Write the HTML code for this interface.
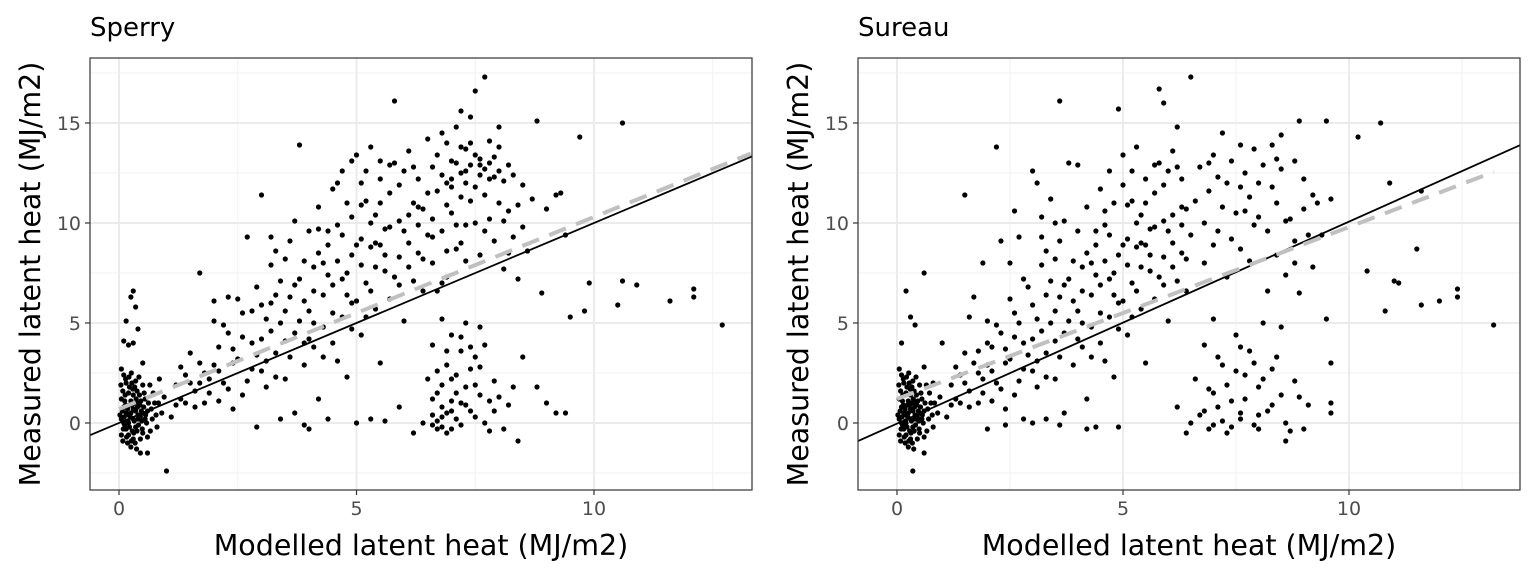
<!DOCTYPE html>
<html><head><meta charset="utf-8"><style>
html,body{margin:0;padding:0;background:#fff;}
svg{display:block;font-family:"DejaVu Sans","Liberation Sans",sans-serif;}
</style></head><body>
<svg id="chart" width="1536" height="576" viewBox="0 0 1536 576" xmlns="http://www.w3.org/2000/svg"></svg>
<script>
const xTicks=[0,5,10];
const yTicks=[0,5,10,15];
const panelTitles=["Sperry","Sureau"];
const sperrySolid=[0.0,1.0];
const sperryDashed=[0.7,0.96];
const sureauSolid=[-0.03,1.01];
const sureauDashed=[1.2,0.86];
const sperryPoints=[
[0.05,0.2],[0.1,0.8],[0.15,-0.3],[0.2,1.5],[0.25,0.5],[0.3,-0.8],[0.35,2.1],[0.1,2.4],[0.05,-0.6],[0.2,0],[0.4,1.0],[0.45,0.3],[0.5,-0.5],[0.55,1.2],[0.6,0.6],[0.12,1.1],[0.18,-1.0],[0.28,0.9],[0.33,1.8],[0.08,1.6],[0.22,-0.2],[0.38,-0.4],[0.42,2.3],[0.48,0.1],[0.52,0.8],[0.02,0.4],[0.15,2.0],[0.3,0.2],[0.25,-1.2],[0.35,0.6],[0.6,-1.5],[0.45,-1.5],[0.7,0.2],[0.75,1.0],[0.8,-0.2],[0.65,1.9],[0.05,2.7],[0.2,3.9],[0.3,6.6],[0.25,6.3],[0.35,5.8],[0.15,5.1],[0.4,4.7],[0.3,4.0],[0.1,4.1],[0.5,3.0],[0.9,0.5],[0.95,1.3],[1.0,-2.4],[0.85,2.2],
[0.1,0.0],[0.15,0.5],[0.2,-0.6],[0.25,1.1],[0.3,1.4],[0.35,-0.2],[0.4,0.4],[0.12,-0.1],[0.18,0.7],[0.28,-0.4],[0.05,1.2],[0.22,1.8],[0.32,0.1],[0.38,1.6],[0.45,-0.8],[0.5,1.9],[0.55,0.2],[0.6,-0.7],[0.08,-0.9],[0.14,2.2],[0.24,0.3],[0.34,-1.0],[0.44,0.9],[0.26,2.5],
[0.07,0.6],[0.13,1.4],[0.19,0.1],[0.23,0.9],[0.29,1.7],[0.36,1.2],[0.41,-0.1],[0.47,0.6],[0.53,1.5],[0.58,0.0],[0.09,-0.3],[0.16,-0.7],[0.27,2.0],[0.31,-0.5],[0.39,0.8],[0.43,1.4],[0.49,-0.3],[0.56,0.4],[0.62,1.0],[0.66,-0.4],[0.04,1.9],[0.11,0.3],[0.21,2.3],[0.37,-1.3],[0.46,1.1],[0.68,0.7],[0.72,1.5],[0.78,0.4],[0.83,1.0],[0.2,0.4],[0.3,0.7],[0.4,0.2],[0.14,0.9],[0.26,-0.9],[0.34,1.0],[0.5,0.5],
[1.1,0.3],[1.2,1.9],[1.3,2.8],[1.4,1.0],[1.5,3.5],[1.6,0.8],[1.7,7.5],[1.8,2.5],[1.9,1.5],[2.0,6.1],[2.1,3.8],[2.2,2.0],[2.3,4.5],[2.4,0.7],[2.5,3.2],[2.6,5.5],[2.7,9.3],[2.8,2.7],[2.9,6.8],[3.0,11.4],[3.0,4.2],[3.1,1.8],[3.2,7.9],[3.2,9.3],[3.3,3.5],[3.4,5.0],[3.5,8.2],[3.5,2.2],[3.6,6.3],[3.7,0.5],[3.7,4.5],[3.8,13.9],[3.8,7.2],[3.9,2.9],[4.0,9.6],[4.0,5.6],[4.1,3.8],[4.1,7.8],[4.2,1.2],[4.2,10.8],[4.3,6.4],[4.3,4.8],[4.4,8.9],[4.4,0.2],[4.5,11.7],[4.5,6.9],[4.6,3.1],[4.6,9.9],[4.7,5.3],[4.7,12.6],[4.8,7.5],[4.8,2.3],[4.9,10.3],[4.9,8.4],[5.0,6.1],[5.0,13.4],[5.1,9.2],[5.1,4.4],[5.2,11.1],[5.2,7.0],[5.3,13.8],[5.3,8.8],[5.4,5.7],[5.4,10.4],[5.5,12.2],[5.5,3.0],[5.6,9.7],[5.6,7.6],[5.7,11.5],[5.7,6.2],[5.8,16.1],[5.8,13.0],[5.9,8.3],[5.9,10.1],[6.0,12.6],[6.0,5.1],[6.1,9.0],[6.1,13.6],[6.2,7.1],[6.2,11.0],[6.3,8.5],[6.3,12.2],[6.4,6.6],[6.4,10.7],[6.5,14.2],[6.5,9.4],[5.0,0.0],[5.3,0.2],[5.6,0.1],[4.0,-0.3],[3.9,-0.1],[3.4,0.2],[2.9,-0.2],
[1.3,1.2],[1.5,2.0],[1.8,1.0],[2.0,2.9],[2.2,4.9],[2.4,3.0],[2.6,1.4],[2.8,4.0],[3.0,5.9],[3.1,3.1],[3.3,6.4],[3.5,4.1],[3.6,9.1],[3.9,6.1],[4.1,5.0],[4.3,8.0],[4.5,4.0],[4.7,7.2],[4.9,6.0],[5.1,7.9],[5.3,6.6],[5.5,8.9],[5.7,9.8],[5.9,6.9],[6.1,10.4],[6.3,9.9],[4.4,9.6],[4.8,11.0],[5.2,12.6],[5.4,9.0],[3.7,10.1],[3.3,8.6],[2.5,6.2],[2.1,1.1],
[1.2,0.9],[1.4,2.4],[1.6,1.6],[1.7,3.0],[1.9,2.2],[2.1,2.6],[2.3,1.7],[2.4,3.7],[2.6,4.3],[2.7,2.1],[2.9,3.4],[3.0,2.6],[3.1,5.2],[3.2,4.6],[3.3,2.3],[3.4,7.1],[3.5,5.6],[3.6,3.3],[3.7,6.9],[3.8,5.1],[3.9,8.1],[4.0,4.2],[4.1,6.6],[4.2,8.5],[4.3,3.3],[4.4,7.4],[4.5,5.5],[4.6,8.1],[4.7,9.4],[4.8,6.4],[4.9,4.7],[5.0,8.9],[5.1,10.9],[5.2,5.3],[5.3,10.0],[5.4,7.8],[5.5,11.0],[5.6,8.4],[5.7,12.9],[5.8,7.3],[5.9,11.9],[6.0,9.6],[6.1,7.8],[6.2,12.8],[6.3,10.8],[6.4,8.2],[6.5,11.5],[4.6,12.0],[4.9,13.1],[5.1,12.0],[5.5,13.1],[4.2,9.7],[3.9,4.0],[3.2,6.0],[2.8,5.6],[2.3,6.3],[2.0,5.1],[1.7,2.0],
[6.6,12.8],[6.6,8.0],[6.7,11.6],[6.7,13.4],[6.8,9.6],[6.8,14.5],[6.9,12.0],[6.9,7.3],[7.0,13.1],[7.0,10.5],[7.1,14.8],[7.1,8.7],[7.2,12.5],[7.2,11.3],[7.3,13.7],[7.3,9.9],[7.4,15.3],[7.4,12.9],[7.5,16.6],[7.5,11.8],[7.6,13.2],[7.6,8.4],[7.7,17.3],[7.7,12.7],[7.8,14.1],[7.8,10.2],[7.9,12.3],[7.9,9.1],[8.0,13.8],[8.0,11.0],[8.1,12.1],[8.1,7.7],[8.2,10.6],[8.3,9.3],[8.4,7.2],[8.5,11.9],[8.6,8.6],[8.8,15.1],[8.9,6.5],[9.0,10.7],[9.2,11.4],[9.3,11.5],[9.4,9.4],[9.5,5.3],[9.7,14.3],[9.8,5.6],[9.9,7.0],[10.5,5.9],[10.6,15.0],[10.6,7.1],[10.9,6.9],[11.6,6.1],[12.1,6.7],[12.1,6.3],[12.7,4.9],
[7.0,12.2],[7.3,12.0],[7.6,12.4],[7.8,13.0],[7.2,9.0],[6.9,10.9],[7.5,10.0],[8.2,12.9],[7.4,14.0],[6.7,6.6],
[6.6,10.2],[6.8,12.4],[7.0,11.8],[7.1,13.0],[7.2,13.8],[7.3,12.6],[7.4,11.1],[7.5,13.4],[7.6,12.9],[7.7,11.4],[7.8,12.2],[7.9,13.3],[8.0,12.6],[8.1,10.1],[8.3,12.4],[8.4,10.9],[6.9,8.6],[7.1,9.9],[7.3,8.1],[6.6,9.3],[6.8,7.0],[7.7,9.6],[8.2,8.5],[8.5,9.8],[8.7,11.2],[8.0,14.8],[7.2,15.6],[6.9,14.0],
[6.5,2.2],[6.6,0.4],[6.6,3.9],[6.7,-0.3],[6.7,1.5],[6.8,5.2],[6.8,0.8],[6.9,2.9],[6.9,-0.5],[7.0,1.1],[7.0,4.4],[7.1,0.2],[7.1,2.4],[7.2,3.6],[7.2,-0.1],[7.3,1.8],[7.3,5.0],[7.4,0.6],[7.4,2.7],[7.5,3.3],[7.6,4.8],[7.6,1.4],[7.7,0.0],[7.8,-0.4],[7.9,2.1],[8.0,1.3],[8.1,-0.3],[8.2,0.9],[8.4,-0.9],[8.5,3.3],[8.8,1.8],[9.0,1.0],[9.2,0.5],[9.4,0.5],[6.2,-0.5],[6.4,0.0],[5.9,0.8],[6.7,0.1],[6.8,-0.2],[6.9,0.5],[7.0,-0.3],
[6.6,1.2],[6.7,2.6],[6.8,1.9],[6.9,3.6],[7.0,2.2],[7.1,1.5],[7.2,4.3],[7.3,0.9],[7.4,3.8],[7.5,1.9],[7.6,2.8],[7.7,3.9],[7.8,1.1],[6.6,-0.1],[6.8,0.3],[7.0,0.6],[7.2,1.0],[7.5,0.3],[7.9,0.6],[8.3,1.8]
];
const sureauPoints=[
[0.05,0.2],[0.1,0.8],[0.15,-0.3],[0.2,1.5],[0.25,0.5],[0.3,-0.8],[0.35,2.1],[0.1,2.4],[0.05,-0.6],[0.2,0],[0.4,1.0],[0.45,0.3],[0.5,-0.5],[0.55,1.2],[0.6,0.6],[0.12,1.1],[0.18,-1.0],[0.28,0.9],[0.33,1.8],[0.08,1.6],[0.22,-0.2],[0.38,-0.4],[0.42,2.3],[0.48,0.1],[0.52,0.8],[0.02,0.4],[0.15,2.0],[0.3,0.2],[0.25,-1.2],[0.35,0.6],[0.6,-1.5],[0.35,-2.4],[0.7,0.2],[0.75,1.0],[0.8,-0.2],[0.65,1.9],[0.05,2.7],[0.2,6.6],[0.3,5.3],[0.1,4.0],[0.4,4.9],[0.6,2.8],[0.8,2.0],[1.0,4.0],[0.6,7.5],[0.9,0.5],[0.95,1.3],
[0.1,0.0],[0.15,0.5],[0.2,-0.6],[0.25,1.1],[0.3,1.4],[0.35,-0.2],[0.4,0.4],[0.12,-0.1],[0.18,0.7],[0.28,-0.4],[0.05,1.2],[0.22,1.8],[0.32,0.1],[0.38,1.6],[0.45,-0.8],[0.5,1.9],[0.55,0.2],[0.6,-0.7],[0.08,-0.9],[0.14,2.2],[0.24,0.3],[0.34,-1.0],[0.44,0.9],[0.26,2.5],
[0.07,0.6],[0.13,1.4],[0.19,0.1],[0.23,0.9],[0.29,1.7],[0.36,1.2],[0.41,-0.1],[0.47,0.6],[0.53,1.5],[0.58,0.0],[0.09,-0.3],[0.16,-0.7],[0.27,2.0],[0.31,-0.5],[0.39,0.8],[0.43,1.4],[0.49,-0.3],[0.56,0.4],[0.62,1.0],[0.66,-0.4],[0.04,1.9],[0.11,0.3],[0.21,2.3],[0.37,-1.3],[0.46,1.1],[0.68,0.7],[0.72,1.5],[0.78,0.4],[0.83,1.0],[0.2,0.4],[0.3,0.7],[0.4,0.2],[0.14,0.9],[0.26,-0.9],[0.34,1.0],[0.5,0.5],
[1.1,0.3],[1.2,1.9],[1.3,2.8],[1.4,1.0],[1.5,3.5],[1.5,11.4],[1.6,0.8],[1.7,6.3],[1.8,2.5],[1.9,1.5],[2.0,5.1],[2.1,3.8],[2.2,13.8],[2.2,2.0],[2.3,4.5],[2.4,0.7],[2.5,3.2],[2.6,5.5],[2.7,9.3],[2.8,2.7],[2.9,6.8],[3.0,12.6],[3.0,4.2],[3.1,1.8],[3.2,7.9],[3.2,9.3],[3.3,3.5],[3.4,5.0],[3.5,8.2],[3.5,2.2],[3.6,16.1],[3.6,6.3],[3.7,0.5],[3.7,4.5],[3.8,13.0],[3.8,7.2],[3.9,2.9],[4.0,9.6],[4.0,5.6],[4.1,3.8],[4.1,7.8],[4.2,1.2],[4.2,10.8],[4.3,6.4],[4.3,4.8],[4.4,8.9],[4.4,-0.2],[4.5,11.7],[4.5,6.9],[4.6,3.1],[4.6,9.9],[4.7,5.3],[4.7,12.6],[4.8,7.5],[4.8,2.3],[4.9,15.7],[4.9,8.4],[5.0,6.1],[5.0,13.4],[5.1,9.2],[5.1,4.4],[5.2,11.1],[5.2,7.0],[5.3,13.8],[5.3,8.8],[5.4,5.7],[5.4,10.4],[5.5,12.2],[5.5,3.0],[5.6,9.7],[5.6,7.6],[5.7,11.5],[5.7,6.2],[5.8,16.7],[5.9,16.0],[5.8,13.0],[5.9,8.3],[5.9,10.1],[6.0,12.6],[6.0,5.1],[6.1,9.0],[6.1,13.6],[6.2,7.1],[6.2,14.8],[6.3,8.5],[6.3,12.2],[6.4,6.6],[6.4,10.7],[6.5,17.3],[6.5,9.4],[3.0,0.0],[3.3,0.2],[3.6,-0.1],[2.0,-0.3],[2.4,-0.1],[2.8,0.2],[4.9,-0.2],[4.2,-0.3],
[1.3,1.2],[1.5,2.0],[1.8,1.0],[2.0,2.9],[2.2,4.9],[2.4,3.0],[2.6,1.4],[2.8,4.0],[3.0,5.9],[3.1,3.1],[3.3,6.4],[3.5,4.1],[3.6,9.1],[3.9,6.1],[4.1,5.0],[4.3,8.0],[4.5,4.0],[4.7,7.2],[4.9,6.0],[5.1,7.9],[5.3,6.6],[5.5,8.9],[5.7,9.8],[5.9,6.9],[6.1,10.4],[6.3,9.9],[4.4,9.6],[4.8,11.0],[5.2,12.6],[5.4,9.0],[3.7,10.1],[3.3,8.6],[2.5,6.2],[2.1,1.1],[2.6,10.6],[3.1,12.0],[3.4,11.2],[4.0,12.9],[2.3,9.1],[1.9,8.0],
[1.2,0.9],[1.4,2.4],[1.6,1.6],[1.7,3.0],[1.9,2.2],[2.1,2.6],[2.3,1.7],[2.4,3.7],[2.6,4.3],[2.7,2.1],[2.9,3.4],[3.0,2.6],[3.1,5.2],[3.2,4.6],[3.3,2.3],[3.4,7.1],[3.5,5.6],[3.6,3.3],[3.7,6.9],[3.8,5.1],[3.9,8.1],[4.0,4.2],[4.1,6.6],[4.2,8.5],[4.3,3.3],[4.4,7.4],[4.5,5.5],[4.6,8.1],[4.7,9.4],[4.8,6.4],[4.9,4.7],[5.0,8.9],[5.1,10.9],[5.2,5.3],[5.3,10.0],[5.4,7.8],[5.5,11.0],[5.6,8.4],[5.7,12.9],[5.8,7.3],[5.9,11.9],[6.0,9.6],[6.1,7.8],[6.2,12.8],[6.3,10.8],[6.4,8.2],[2.5,8.0],[2.8,7.2],[3.2,10.3],[2.0,4.0],[1.6,5.3],[1.8,3.6],[2.7,5.0],[3.5,10.0],[4.6,10.6],[5.0,11.9],
[6.7,12.8],[6.8,8.0],[6.9,11.6],[7.0,13.4],[7.1,9.6],[7.2,14.5],[7.3,12.0],[7.3,7.3],[7.4,13.1],[7.5,10.5],[7.6,11.8],[7.6,8.7],[7.7,12.5],[7.8,11.3],[7.9,13.7],[7.9,9.9],[8.0,10.3],[8.1,12.9],[8.2,6.6],[8.3,11.8],[8.4,13.2],[8.4,8.4],[8.5,14.4],[8.5,12.7],[8.6,10.1],[8.7,10.2],[8.8,13.1],[8.8,9.1],[8.9,15.1],[8.9,6.5],[9.0,10.7],[9.1,9.4],[9.2,11.4],[9.3,11.0],[9.4,9.4],[9.5,15.1],[9.5,5.2],[9.6,3.0],[9.6,11.2],[10.2,14.3],[10.7,15.0],[10.4,7.6],[10.8,5.6],[10.9,12.0],[11.0,7.1],[11.1,7.0],[11.5,8.7],[11.6,11.6],[11.6,5.9],[12.0,6.1],[12.4,6.7],[12.4,6.3],[13.2,4.9],
[6.6,11.1],[6.8,10.0],[7.0,8.9],[7.2,10.8],[7.4,9.2],[7.6,13.9],[7.8,8.1],[8.0,12.0],[8.2,9.6],[8.4,11.0],[8.6,7.4],[8.8,8.0],[9.0,12.2],[9.2,7.8],[7.1,12.3],[7.7,10.6],[8.3,13.9],[6.9,13.0],
[6.6,2.2],[6.7,0.4],[6.8,3.9],[6.9,-0.3],[7.0,1.5],[7.0,5.2],[7.1,0.8],[7.2,2.9],[7.3,-0.5],[7.4,1.1],[7.5,4.4],[7.6,0.2],[7.7,2.4],[7.8,3.6],[7.9,-0.1],[8.0,1.8],[8.1,5.0],[8.2,0.6],[8.3,2.7],[8.4,3.3],[8.5,4.8],[8.5,1.4],[8.6,0.0],[8.7,-0.4],[8.8,2.1],[8.9,1.3],[9.0,-0.3],[9.1,0.9],[9.6,0.5],[9.6,1.0],[8.6,-0.9],[6.4,-0.5],[6.5,0.0],[6.2,0.8],[7.2,0.1],[7.4,-0.2],[7.6,0.5],[8.0,-0.3],
[6.9,1.7],[7.1,3.3],[7.3,1.9],[7.5,2.6],[7.7,1.2],[7.9,3.0],[8.1,2.2],[8.3,0.9],[6.8,0.6],[7.0,-0.1],[7.6,3.8],[8.0,0.4]
];

const svg=document.getElementById('chart');
const NS='http://www.w3.org/2000/svg';
function mk(tag,attrs,parent){const e=document.createElementNS(NS,tag);for(const k in attrs)e.setAttribute(k,attrs[k]);(parent||svg).appendChild(e);return e;}

function drawPanel(p){
  const g=mk('g',{});
  
  
  const X=v=>p.x0px+(v*p.xs);
  const Y=v=>423-v*20;
  const L=p.left,R=p.right,T=58,B=490;
  mk('rect',{x:L,y:T,width:R-L,height:B-T,fill:'#fff'},g);
  [-2.5,2.5,7.5,12.5,17.5].forEach(v=>{const l=mk('line',{x1:L,x2:R,y1:Y(v),y2:Y(v),stroke:'#f2f2f2','stroke-width':1},g);});
  [2.5,7.5,12.5].forEach(v=>{const l=mk('line',{x1:X(v),x2:X(v),y1:T,y2:B,stroke:'#f2f2f2','stroke-width':1},g);});
  yTicks.forEach(v=>{const l=mk('line',{x1:L,x2:R,y1:Y(v),y2:Y(v),stroke:'#ebebeb','stroke-width':2},g);});
  xTicks.forEach(v=>{const l=mk('line',{x1:X(v),x2:X(v),y1:T,y2:B,stroke:'#ebebeb','stroke-width':2},g);});
  const cg=mk('g',{},g);
  p.points.forEach(d=>{const c=mk('circle',{cx:X(d[0]),cy:Y(d[1]),r:2.6,fill:'#000'},cg);});
  const xmin=(L-p.x0px)/p.xs,xmax=(R-p.x0px)/p.xs;
  const s=mk('line',{x1:L,x2:R,y1:Y(p.solid[0]+p.solid[1]*xmin),y2:Y(p.solid[0]+p.solid[1]*xmax),stroke:'#000','stroke-width':1.8},g);
  
  const dx0=0,dx1=p.dashEnd;
  const d=mk('line',{x1:X(dx0),x2:X(dx1),y1:Y(p.dashed[0]+p.dashed[1]*dx0),y2:Y(p.dashed[0]+p.dashed[1]*dx1),stroke:'#c0c0c0','stroke-width':4,'stroke-dasharray':'18,11'},g);
  
  mk('rect',{x:L,y:T,width:R-L,height:B-T,fill:'none',stroke:'#333','stroke-width':1.2},g);
  yTicks.forEach(v=>{mk('line',{x1:L-5,x2:L,y1:Y(v),y2:Y(v),stroke:'#333','stroke-width':1.2},g);
    const t=mk('text',{x:L-9,y:Y(v)+7,'text-anchor':'end','font-size':19,fill:'#4d4d4d'},g);t.textContent=v;});
  xTicks.forEach(v=>{mk('line',{x1:X(v),x2:X(v),y1:B,y2:B+5,stroke:'#333','stroke-width':1.2},g);
    const t=mk('text',{x:X(v),y:B+25,'text-anchor':'middle','font-size':19,fill:'#4d4d4d'},g);t.textContent=v;});
  const ti=mk('text',{x:L,y:36,'font-size':26,fill:'#000'},g);ti.textContent=p.title;
  const xl=mk('text',{x:(L+R)/2,y:555,'text-anchor':'middle','font-size':28.5,fill:'#000'},g);xl.textContent='Modelled latent heat (MJ/m2)';
  const cy=(T+B)/2;
  const yl=mk('text',{x:L-50,y:cy,'text-anchor':'middle','font-size':28.5,fill:'#000',transform:`rotate(-90 ${L-50} ${cy})`},g);yl.textContent='Measured latent heat (MJ/m2)';
}
drawPanel({name:'sperry',title:panelTitles[0],left:90,right:752,x0px:119,xs:47.5,points:sperryPoints,solid:sperrySolid,dashed:sperryDashed,dashEnd:13.3});
drawPanel({name:'sureau',title:panelTitles[1],left:858,right:1520,x0px:897,xs:45.2,points:sureauPoints,solid:sureauSolid,dashed:sureauDashed,dashEnd:13.2});
</script>
</body></html>
